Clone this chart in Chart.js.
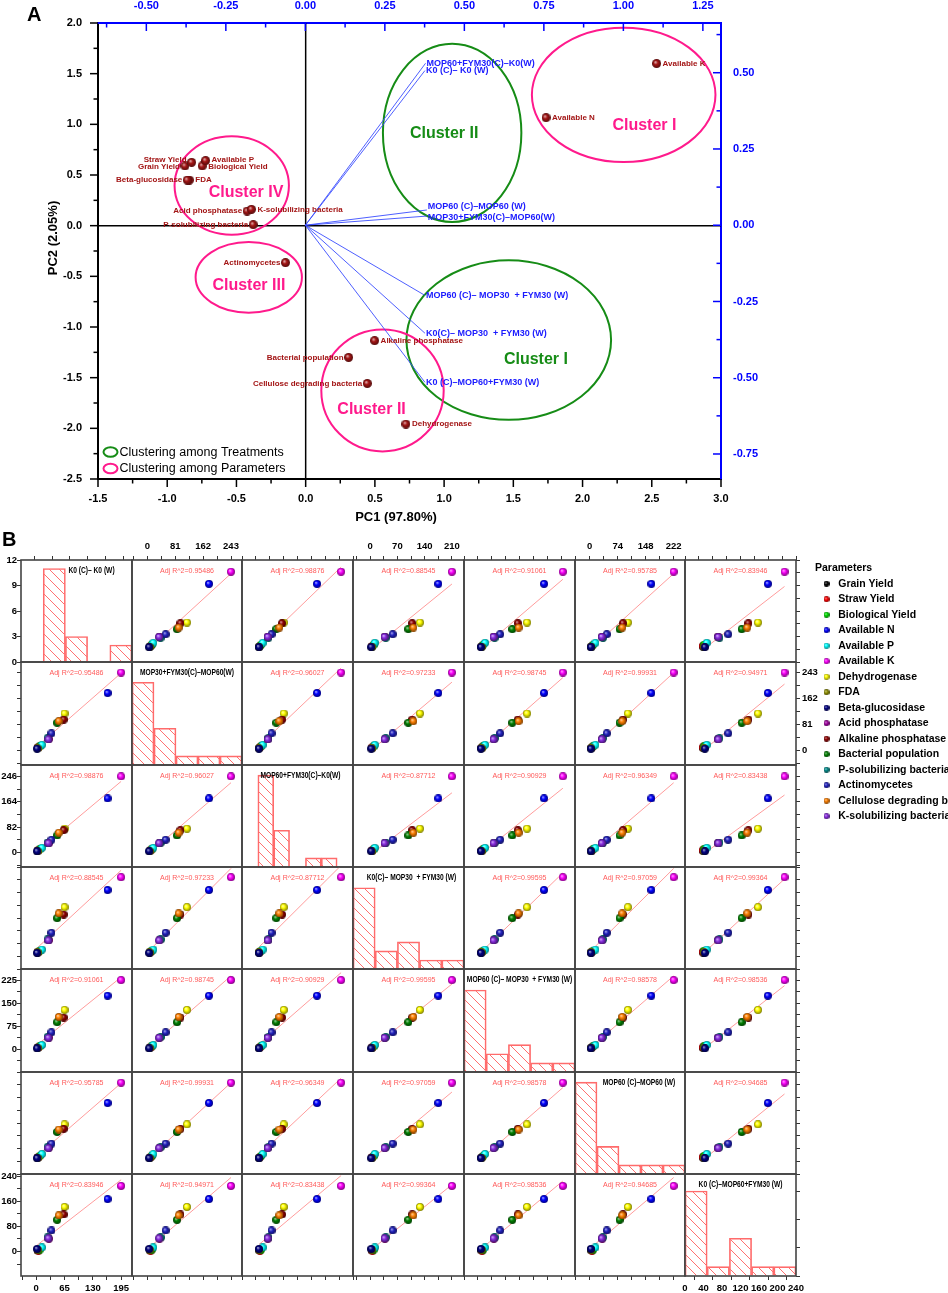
<!DOCTYPE html>
<html>
<head>
<meta charset="utf-8">
<title>PCA biplot and scatter matrix</title>
<script src="https://cdn.jsdelivr.net/npm/chart.js@4.4.1/dist/chart.umd.min.js"></script>
<style>
  html, body { margin: 0; padding: 0; background: #ffffff; }
  #page { position: relative; width: 948px; height: 1293px; overflow: hidden; background: #ffffff; }
  #page canvas { position: absolute; }
</style>
</head>
<body>
<div id="page"></div>
<script>
// ---------------- data ----------------

// parameters, in legend order
const params = ['Grain Yield', 'Straw Yield', 'Biological Yield', 'Available N', 'Available P', 'Available K',
  'Dehydrogenase', 'FDA', 'Beta-glucosidase', 'Acid phosphatase', 'Alkaline phosphatase', 'Bacterial population',
  'P-solubilizing bacteria', 'Actinomycetes', 'Cellulose degrading bacteria', 'K-solubilizing bacteria'];

// treatments (matrix order)
const treatments = ['K0 (C)– K0 (W)', 'MOP30+FYM30(C)–MOP60(W)', 'MOP60+FYM30(C)–K0(W)', 'K0(C)– MOP30  + FYM30 (W)',
  'MOP60 (C)– MOP30  + FYM30 (W)', 'MOP60 (C)–MOP60 (W)', 'K0 (C)–MOP60+FYM30 (W)'];

// PCA scores of the parameters
const pc1Scores = [-0.872, -0.824, -0.747, 1.736, -0.723, 2.535, 0.724, -0.84, -0.855, -0.423, 0.498, 0.31, -0.379, -0.146, 0.445, -0.392];
const pc2Scores = [0.589, 0.625, 0.589, 1.066, 0.642, 1.6, -1.958, 0.45, 0.45, 0.144, -1.135, -1.3, 0.01, -0.365, -1.557, 0.161];

// treatment loadings (top / right axes)
const loadPC1 = [0.376, 0.382, 0.378, 0.376, 0.376, 0.382, 0.376];
const loadPC2 = [0.507, 0.030, 0.531, -0.354, -0.230, 0.050, -0.515];

// parameter values for every treatment
const k0K0          = [3, 5, 8, 164, 13, 195, 65, 3, 2, 29, 63, 48, 26, 35, 52, 28];
const mop30Mop60    = [7, 9, 12, 179, 17, 243, 115, 6, 5, 35, 96, 86, 38, 53, 91, 34];
const mop60fymK0    = [5, 7, 10, 175, 15, 246, 77, 4, 4, 30, 72, 55, 32, 41, 64, 30];
const k0Mop30fym    = [4, 6, 9, 175, 12, 210, 128, 5, 3, 38, 108, 98, 40, 58, 111, 37];
const mop60Mop30fym = [4, 6, 9, 174, 14, 225, 128, 5, 3, 38, 103, 88, 40, 55, 105, 37];
const mop60Mop60    = [4, 6, 9, 163, 15, 222, 101, 4, 3, 33, 88, 79, 35, 45, 86, 32];
const k0Mop60fym    = [4, 3, 6, 167, 13, 209, 142, 6, 8, 41, 118, 101, 45, 67, 115, 42];
const treatmentValues = [k0K0, mop30Mop60, mop60fymK0, k0Mop30fym, mop60Mop30fym, mop60Mop60, k0Mop60fym];

// adjusted R^2 of each pair
const adjR2 = [
  [null, 0.95486, 0.98876, 0.88545, 0.91061, 0.95785, 0.83946],
  [0.95486, null, 0.96027, 0.97233, 0.98745, 0.99931, 0.94971],
  [0.98876, 0.96027, null, 0.87712, 0.90929, 0.96349, 0.83438],
  [0.88545, 0.97233, 0.87712, null, 0.99595, 0.97059, 0.99364],
  [0.91061, 0.98745, 0.90929, 0.99595, null, 0.98578, 0.98536],
  [0.95785, 0.99931, 0.96349, 0.97059, 0.98578, null, 0.94685],
  [0.83946, 0.94971, 0.83438, 0.99364, 0.98536, 0.94685, null]
];

// histograms on the diagonal
const histCounts = [[0, 11, 3, 0, 2], [9, 4, 1, 1, 1], [0, 10, 4, 0, 1, 1, 0], [9, 2, 3, 1, 1], [9, 2, 3, 1, 1], [10, 3, 1, 1, 1], [9, 1, 4, 1, 1]];
const histStart = [-50, 0, -50, 0, 0, 0, 0];
const histBin = [50, 50, 50, 42, 45, 48, 48];
const histTop = [12, 11.2, 11.1, 11.3, 11.3, 11.1, 10.8];

// axis ranges and label steps of the matrix
const colRanges = [[-35, 220], [-45, 275], [-46, 281], [-44, 241], [-43, 258], [-39, 252], [-42, 238]];
const rowRanges = [[-36, 225], [-46, 276], [-47, 283], [-41, 238], [-74, 261], [-43, 253], [-78, 247]];
const colSteps = [65, 81, 82, 70, 75, 74, 70];
const rowSteps = [65, 81, 82, 70, 75, 74, 80];

// ---------------- styles ----------------
const FONT = "'Liberation Sans', Arial, Helvetica, sans-serif";
const paramColors = ['#000000', '#ff0000', '#00e000', '#0000ff', '#00ffff', '#ff00ff', '#ffff00', '#8f8f00',
  '#000080', '#a000a0', '#900000', '#008000', '#008b8b', '#2020c0', '#ff8000', '#8a2be2'];
const blue = '#0000ff', green = '#168c16', pink = '#ff1a8c', paramRed = '#a31515';
const labelSide = ['left', 'left', 'right', 'right', 'right', 'right', 'right', 'right', 'left', 'left', 'right', 'left', 'left', 'left', 'left', 'right'];
const labelNudge = [0.5, -3, 0.5, 0, -0.5, 0, 0, 0, 0, 0, 0, 0, 0, 0, 0, 0];
const tipNudge = [0, 1, 0, 0, 0, -3, 0];
const diagShift = [15, 0, 3, 3, 0, 9, 0];

const clusterRings = [
  { cx: 1.058, cy: 0.916, rx: 0.50, ry: 0.88, color: green },
  { cx: 1.467, cy: -1.129, rx: 0.739, ry: 0.787, color: green },
  { cx: 2.297, cy: 1.291, rx: 0.663, ry: 0.663, color: pink },
  { cx: -0.534, cy: 0.396, rx: 0.413, ry: 0.486, color: pink },
  { cx: -0.411, cy: -0.51, rx: 0.384, ry: 0.349, color: pink },
  { cx: 0.555, cy: -1.626, rx: 0.442, ry: 0.602, color: pink }
];
const clusterTags = [
  { text: 'Cluster II', x: 1.0, y: 0.908, color: green },
  { text: 'Cluster I', x: 1.663, y: -1.32, color: green },
  { text: 'Cluster I', x: 2.447, y: 0.983, color: pink },
  { text: 'Cluster IV', x: -0.431, y: 0.322, color: pink },
  { text: 'Cluster III', x: -0.41, y: -0.589, color: pink },
  { text: 'Cluster II', x: 0.476, y: -1.813, color: pink }
];

Chart.defaults.font.family = FONT;
Chart.defaults.animation = false;
Chart.defaults.events = [];
Chart.defaults.plugins.legend.display = false;
Chart.defaults.plugins.tooltip.enabled = false;

const isMultiple = (v, m) => Math.abs(v / m - Math.round(v / m)) < 1e-6;

const page = document.getElementById('page');
const addCanvas = (left, top, w, h) => {
  const c = document.createElement('canvas');
  c.width = w; c.height = h;
  c.style.left = left + 'px'; c.style.top = top + 'px';
  c.style.width = w + 'px'; c.style.height = h + 'px';
  page.appendChild(c);
  return c;
};

// little shaded balls used as point styles
const shade = (hex, t) => {
  const n = parseInt(hex.slice(1), 16);
  const f = c => Math.round(t > 0 ? c + (255 - c) * t : c * (1 + t));
  return `rgb(${f(n >> 16)},${f((n >> 8) & 255)},${f(n & 255)})`;
};
const makeSphere = (hex, d) => {
  const c = document.createElement('canvas');
  c.width = c.height = d;
  const g = c.getContext('2d');
  const r = d / 2;
  const grad = g.createRadialGradient(r * 0.7, r * 0.65, 0, r, r, r);
  grad.addColorStop(0, shade(hex, 0.75));
  grad.addColorStop(0.45, hex);
  grad.addColorStop(1, shade(hex, -0.5));
  g.fillStyle = grad;
  g.beginPath(); g.arc(r, r, r, 0, Math.PI * 2); g.fill();
  return c;
};
const cellSpheres = paramColors.map(c => makeSphere(c, 8));
const legendSpheres = paramColors.map(c => makeSphere(c, 6));
const pcaSphere = makeSphere(paramRed, 9);

// "\" hatching, drawn pixel by pixel so it stays crisp and red
const makeHatch = (ctx) => {
  const t = document.createElement('canvas');
  t.width = t.height = 10;
  const g = t.getContext('2d');
  g.fillStyle = '#ff7070';
  for (let i = 0; i < 10; i++) g.fillRect(i, i, 1, 1);
  return ctx.createPattern(t, 'repeat');
};

// least squares line over the x span of the points
const fitLine = (xs, ys) => {
  const n = xs.length;
  const mx = xs.reduce((s, v) => s + v, 0) / n;
  const my = ys.reduce((s, v) => s + v, 0) / n;
  let sxy = 0, sxx = 0;
  xs.forEach((x, i) => { sxy += (x - mx) * (ys[i] - my); sxx += (x - mx) * (x - mx); });
  const b = sxy / sxx, a = my - b * mx;
  const x0 = Math.min(...xs), x1 = Math.max(...xs);
  return [{ x: x0, y: a + b * x0 }, { x: x1, y: a + b * x1 }];
};

// text squeezed sideways like the narrow font of the original
const narrowText = (ctx, text, x, y, squeeze) => {
  ctx.fillText(text, x, y, ctx.measureText(text).width * squeeze);
};

// ---------------- panel A ----------------
const pcaAxis = (o) => ({
  type: 'linear', position: o.pos, min: o.min, max: o.max,
  grid: { drawOnChartArea: false, drawTicks: false },
  border: { display: true, color: o.color, width: 2 },
  ticks: {
    stepSize: o.minor, includeBounds: false, autoSkip: false, maxRotation: 0, padding: o.pad, color: o.color,
    font: { size: 11, weight: 'bold' },
    callback: v => isMultiple(v, o.major) ? (Math.abs(v) < 1e-9 ? 0 : v).toFixed(o.dec) : ''
  },
  afterFit: s => { if (s.isHorizontal()) s.height = o.size; else s.width = o.size; }
});
const pcaAxes = {
  x: { pos: 'bottom', min: -1.5, max: 3, minor: 0.25, major: 0.5, dec: 1, color: '#000', pad: 13.4, size: 69 },
  y: { pos: 'left', min: -2.5, max: 2, minor: 0.25, major: 0.5, dec: 1, color: '#000', pad: 16, size: 98 },
  x2: { pos: 'top', min: -0.652, max: 1.307, minor: 0.125, major: 0.25, dec: 2, color: blue, pad: 10.4, size: 23 },
  y2: { pos: 'right', min: -0.832, max: 0.663, minor: 0.125, major: 0.25, dec: 2, color: blue, pad: 12, size: 227 }
};

const pcaDecor = {
  id: 'pcaDecor',
  beforeDatasetsDraw(chart) {
    const { ctx, chartArea: a, scales: { x, y } } = chart;
    ctx.save();
    ctx.strokeStyle = '#000'; ctx.lineWidth = 1.5;
    ctx.beginPath();
    ctx.moveTo(x.getPixelForValue(0), a.top); ctx.lineTo(x.getPixelForValue(0), a.bottom);
    ctx.moveTo(a.left, y.getPixelForValue(0)); ctx.lineTo(a.right, y.getPixelForValue(0));
    ctx.stroke();
    ctx.lineWidth = 2;
    clusterRings.forEach(r => {
      const px = x.getPixelForValue(r.cx), py = y.getPixelForValue(r.cy);
      const rx = Math.abs(x.getPixelForValue(r.cx + r.rx) - px);
      const ry = Math.abs(y.getPixelForValue(r.cy + r.ry) - py);
      ctx.strokeStyle = r.color;
      ctx.beginPath(); ctx.ellipse(px, py, rx, ry, 0, 0, Math.PI * 2); ctx.stroke();
    });
    ctx.restore();
  },
  afterDatasetsDraw(chart) {
    const { ctx, scales: { x, y } } = chart;
    ctx.save();
    ctx.textBaseline = 'middle';
    // parameter names
    ctx.font = `bold 8px ${FONT}`;
    ctx.fillStyle = paramRed;
    chart.getDatasetMeta(0).data.forEach((pt, i) => {
      const left = labelSide[i] === 'left';
      ctx.textAlign = left ? 'right' : 'left';
      ctx.fillText(params[i], pt.x + (left ? -5 : 6), pt.y + labelNudge[i]);
    });
    // treatment names at the vector tips
    ctx.font = `bold 9px ${FONT}`;
    ctx.fillStyle = '#1a1aff';
    ctx.textAlign = 'left';
    treatments.forEach((t, i) => {
      const tip = chart.getDatasetMeta(i + 1).data[1];
      ctx.fillText(t, tip.x + 1, tip.y + tipNudge[i]);
    });
    // cluster names
    ctx.font = `bold 16px ${FONT}`;
    ctx.textAlign = 'center';
    clusterTags.forEach(t => {
      ctx.fillStyle = t.color;
      ctx.fillText(t.text, x.getPixelForValue(t.x), y.getPixelForValue(t.y));
    });
    ctx.restore();
  },
  afterDraw(chart) {
    const ctx = chart.ctx;
    ctx.save();
    // tick marks: outside on the black axes, inside on the blue ones
    ctx.lineWidth = 1.5;
    Object.keys(pcaAxes).forEach(id => {
      const o = pcaAxes[id], s = chart.scales[id];
      ctx.strokeStyle = o.color;
      s.ticks.forEach(t => {
        const len = isMultiple(t.value, o.major) ? 8 : 4.5;
        const p = s.getPixelForValue(t.value);
        ctx.beginPath();
        if (id === 'x') { ctx.moveTo(p, s.top); ctx.lineTo(p, s.top + len); }
        if (id === 'y') { ctx.moveTo(s.right, p); ctx.lineTo(s.right - len, p); }
        if (id === 'x2') { ctx.moveTo(p, s.bottom); ctx.lineTo(p, s.bottom + len); }
        if (id === 'y2') { ctx.moveTo(s.left, p); ctx.lineTo(s.left - len, p); }
        ctx.stroke();
      });
    });
    // axis titles
    ctx.fillStyle = '#000';
    ctx.font = `bold 13px ${FONT}`;
    ctx.textAlign = 'center'; ctx.textBaseline = 'middle';
    ctx.fillText('PC1 (97.80%)', 396, 517);
    ctx.save();
    ctx.translate(53, 238); ctx.rotate(-Math.PI / 2);
    ctx.fillText('PC2 (2.05%)', 0, 0);
    ctx.restore();
    // legend of the rings
    ctx.font = `12.5px ${FONT}`;
    ctx.textAlign = 'left';
    [['Clustering among Treatments', green, 452], ['Clustering among Parameters', pink, 468.5]].forEach(([txt, col, yy]) => {
      ctx.strokeStyle = col; ctx.lineWidth = 2;
      ctx.beginPath(); ctx.ellipse(110.5, yy, 7, 4.8, 0, 0, Math.PI * 2); ctx.stroke();
      ctx.fillText(txt, 119.5, yy + 0.5);
    });
    // panel letters
    ctx.font = `bold 20px ${FONT}`;
    ctx.textBaseline = 'alphabetic';
    ctx.fillText('A', 27, 21);
    ctx.fillText('B', 2, 546);
    ctx.restore();
  }
};

const pcaScales = {};
Object.keys(pcaAxes).forEach(id => { pcaScales[id] = pcaAxis(pcaAxes[id]); });

new Chart(addCanvas(0, 0, 948, 548), {
  type: 'scatter',
  data: {
    datasets: [
      {
        data: pc1Scores.map((v, i) => ({ x: v, y: pc2Scores[i] })),
        pointStyle: pcaSphere, pointRadius: 4.5, xAxisID: 'x', yAxisID: 'y'
      },
      ...treatments.map((t, i) => ({
        data: [{ x: 0, y: 0 }, { x: loadPC1[i], y: loadPC2[i] }],
        showLine: true, borderColor: '#3a4dff', borderWidth: 0.9, pointRadius: 0, xAxisID: 'x2', yAxisID: 'y2'
      }))
    ]
  },
  options: {
    responsive: false,
    layout: { padding: 0 },
    scales: pcaScales
  },
  plugins: [pcaDecor]
});

// ---------------- panel B ----------------
const colEdges = [...Array(8)].map((_, i) => Math.round(21 + i * 110.7));
const rowEdges = [...Array(8)].map((_, i) => Math.round(560 + i * 102.3));
const M = 8;

const cellAxis = (o) => ({
  type: 'linear', display: o.show, position: o.pos, min: o.min, max: o.max, offset: false,
  grid: { drawOnChartArea: false, drawTicks: true, tickLength: 4, tickColor: '#333', tickWidth: 1 },
  border: { display: false },
  ticks: {
    stepSize: o.step, includeBounds: false, autoSkip: false, maxRotation: 0, padding: o.pad, color: '#000',
    font: { size: 9.5, weight: 'bold' },
    callback: v => o.labels && isMultiple(v, o.major) ? String(Math.round(v)) : ''
  },
  afterFit: s => { if (s.isHorizontal()) s.height = o.size; else s.width = o.size; }
});

const cellDecor = {
  id: 'cellDecor',
  afterDraw(chart, args, opts) {
    const { ctx, chartArea: a } = chart;
    const cx = (a.left + a.right) / 2;
    ctx.save();
    ctx.strokeStyle = '#444'; ctx.lineWidth = 1.6;
    ctx.strokeRect(a.left, a.top, a.right - a.left, a.bottom - a.top);
    ctx.textAlign = 'center'; ctx.textBaseline = 'middle';
    if (opts.title) {
      ctx.font = `bold 9px ${FONT}`; ctx.fillStyle = '#000';
      narrowText(ctx, opts.title, cx + opts.shift, a.top + 11, 0.74);
    }
    if (opts.r2) {
      ctx.font = `8px ${FONT}`; ctx.fillStyle = '#ff5959';
      narrowText(ctx, 'Adj R^2=' + opts.r2.toFixed(5), cx, a.top + 10.5, 0.88);
    }
    ctx.restore();
  }
};

for (let r = 0; r < 7; r++) {
  for (let c = 0; c < 7; c++) {
    const lext = c === 0 ? 21 : 0, rext = c === 6 ? 22 : 0;
    const text = r === 0 ? 20 : 0, bext = r === 6 ? 17 : 0;
    const w = colEdges[c + 1] - colEdges[c] + lext + rext + 2 * M;
    const h = rowEdges[r + 1] - rowEdges[r] + text + bext + 2 * M;
    const canvas = addCanvas(colEdges[c] - lext - M, rowEdges[r] - text - M, w, h);
    const diag = r === c;

    const xo = {
      show: r === 0 || r === 6, pos: r === 0 ? 'top' : 'bottom', size: r === 0 ? text : bext,
      pad: r === 0 ? 3.5 : 2.5, labels: r === 0 ? c % 2 === 1 : c % 2 === 0
    };
    const yo = {
      show: c === 0 || c === 6, pos: c === 0 ? 'left' : 'right', size: c === 0 ? lext : rext,
      pad: c === 0 ? 0 : 2, labels: c === 0 ? r % 2 === 0 : r % 2 === 1
    };

    let config;
    const scales = {};
    if (diag) {
      const counts = histCounts[r];
      const hMax = histStart[r] + counts.length * histBin[r];
      Object.assign(xo, { min: histStart[r], max: hMax, step: 40, major: 40 });
      Object.assign(yo, { min: 0, max: histTop[r], step: 3, major: 3 });
      // hidden axis with one tick per bin, so the bars fill their bins
      scales.xb = {
        type: 'linear', display: false, position: 'bottom', min: histStart[r], max: hMax, offset: false,
        ticks: { stepSize: histBin[r], includeBounds: false }
      };
      config = {
        type: 'bar',
        data: {
          datasets: [{
            data: counts.map((n, k) => ({ x: histStart[r] + histBin[r] * (k + 0.5), y: n || null })),
            xAxisID: 'xb', yAxisID: 'y',
            backgroundColor: makeHatch(canvas.getContext('2d')),
            borderColor: '#ff6b6b', borderWidth: 1, barPercentage: 1, categoryPercentage: 1
          }]
        }
      };
    } else {
      const xs = treatmentValues[c], ys = treatmentValues[r];
      Object.assign(xo, { min: colRanges[c][0], max: colRanges[c][1], step: colSteps[c] / 2, major: colSteps[c] });
      Object.assign(yo, { min: rowRanges[r][0], max: rowRanges[r][1], step: rowSteps[r] / 2, major: rowSteps[r] });
      config = {
        type: 'scatter',
        data: {
          datasets: [
            { data: xs.map((v, k) => ({ x: v, y: ys[k] })), pointStyle: cellSpheres, pointRadius: 3.5, order: 0 },
            { data: fitLine(xs, ys), showLine: true, borderColor: '#ff9c9c', borderWidth: 1, pointRadius: 0, order: 1 }
          ]
        }
      };
    }
    scales.x = cellAxis(xo);
    scales.y = cellAxis(yo);
    config.options = {
      responsive: false,
      layout: { padding: M },
      scales,
      plugins: {
        cellDecor: diag ? { title: treatments[r], shift: diagShift[r] } : { r2: adjR2[r][c] }
      }
    };
    config.plugins = [cellDecor];
    new Chart(canvas, config);
  }
}

// legend of the matrix (canvas runs past the page edge so the legend box is wide enough)
new Chart(addCanvas(815, 563, 340, 280), {
  type: 'scatter',
  data: {
    datasets: params.map((p, i) => ({ label: p, data: [], pointStyle: legendSpheres[i], backgroundColor: paramColors[i] }))
  },
  options: {
    responsive: false,
    layout: { padding: 0 },
    scales: { x: { display: false }, y: { display: false } },
    plugins: {
      legend: {
        display: true, position: 'left', align: 'start',
        title: { display: true, text: 'Parameters', position: 'start', color: '#000', padding: 0,
          font: { size: 10.5, weight: 'bold', lineHeight: 1 } },
        labels: { usePointStyle: true, pointStyleWidth: 13, padding: 5, color: '#000',
          font: { size: 10.5, weight: 'bold' } }
      }
    }
  }
});
</script>
</body>
</html>
